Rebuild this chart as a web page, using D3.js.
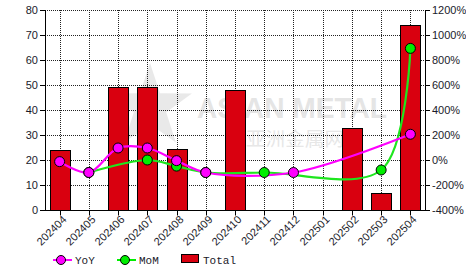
<!DOCTYPE html>
<html>
<head>
<meta charset="utf-8">
<script src="https://cdn.jsdelivr.net/npm/d3@7"></script>
<style>
    body { margin: 0; background: #fff; }
    svg { display: block; }
    .tick-label { font-family: "Liberation Sans", Arial, sans-serif; font-size: 11px; fill: #1a1a2a; }
    .legend-label { font-family: "Liberation Mono", "DejaVu Sans Mono", monospace; font-size: 11px; fill: #1a1a2a; }
</style>
</head>
<body>
<div id="chart"></div>
<script>
// Chart data.
var months = ['202404', '202405', '202406', '202407', '202408', '202409', '202410',
    '202411', '202412', '202501', '202502', '202503', '202504'];
var total = [24, 0, 49, 49, 24.5, 0, 48, 0, 0, 0, 33, 7, 74];
var yoy = [-13, -100, 96, 96, -5, -100, null, null, -100, null, null, null, 206];
var mom = [null, -100, null, 0, -49, -100, null, -100, null, null, null, -80, 893];
var leftTicks = [0, 10, 20, 30, 40, 50, 60, 70, 80];
var rightTicks = [-400, -200, 0, 200, 400, 600, 800, 1000, 1200];

var width = 466, height = 272;
var margin = { top: 10, right: 41, bottom: 62, left: 45 };
var plotW = width - margin.left - margin.right;
var plotH = height - margin.top - margin.bottom;

var svg = d3.select('#chart').append('svg')
    .attr('width', width)
    .attr('height', height);

svg.append('rect').attr('width', width).attr('height', height).attr('fill', '#fff');

// Scales.
var x = d3.scaleBand()
    .domain(months)
    .range([margin.left, margin.left + plotW])
    .paddingInner(0.32)
    .paddingOuter(0.16);
var yLeft = d3.scaleLinear().domain([0, 80]).range([margin.top + plotH, margin.top]);
var yRight = d3.scaleLinear().domain([-400, 1200]).range([margin.top + plotH, margin.top]);
var cx = function(m) { return x(m) + x.bandwidth() / 2; };

// Watermark.
var wm = svg.append('g').attr('opacity', 0.55);
var starPts = d3.range(10).map(function(i) {
    var r = i % 2 ? 17 : 44;
    var a = -Math.PI / 2 + i * Math.PI / 5;
    return [150 + r * Math.cos(a), 107 + r * Math.sin(a)];
});
wm.append('polygon').attr('points', starPts.join(' ')).attr('fill', '#d8d8d8');
wm.append('text').attr('x', 197).attr('y', 118)
    .style('font-family', '"Liberation Sans", Arial, sans-serif')
    .style('font-size', '30px').style('font-weight', 'bold')
    .attr('textLength', 190).attr('lengthAdjust', 'spacingAndGlyphs')
    .attr('fill', '#d0d0d0').text('ASIAN METAL');
wm.append('text').attr('x', 246).attr('y', 146)
    .style('font-family', '"Noto Sans CJK SC", sans-serif')
    .style('font-size', '19px')
    .attr('textLength', 98).attr('lengthAdjust', 'spacingAndGlyphs')
    .attr('fill', '#d4d4d4').text('亚洲金属网');

// Grid.
var grid = svg.append('g')
    .attr('stroke', '#222')
    .attr('stroke-width', 1)
    .attr('stroke-dasharray', '1,1');
grid.selectAll('.hgrid')
    .data(leftTicks.slice(1))
    .enter().append('line')
    .attr('x1', margin.left).attr('x2', margin.left + plotW)
    .attr('y1', function(d) { return Math.round(yLeft(d)) + 0.5; })
    .attr('y2', function(d) { return Math.round(yLeft(d)) + 0.5; });
grid.selectAll('.vgrid')
    .data(months)
    .enter().append('line')
    .attr('x1', function(d) { return Math.round(cx(d)) + 0.5; })
    .attr('x2', function(d) { return Math.round(cx(d)) + 0.5; })
    .attr('y1', margin.top).attr('y2', margin.top + plotH);

// Bars.
svg.append('g').selectAll('rect')
    .data(months.map(function(m, i) { return { m: m, v: total[i] }; }).filter(function(d) { return d.v > 0; }))
    .enter().append('rect')
    .attr('x', function(d) { return Math.round(x(d.m)) + 0.5; })
    .attr('y', function(d) { return Math.round(yLeft(d.v)) + 0.5; })
    .attr('width', Math.round(x.bandwidth()))
    .attr('height', function(d) { return Math.round(yLeft(0)) - Math.round(yLeft(d.v)); })
    .attr('fill', '#d9000f')
    .attr('stroke', '#000')
    .attr('stroke-width', 1);

// Lines (splines through the available points).
var series = [
    { name: 'MoM', values: mom, color: '#1ee61e', marker: '#00ee00' },
    { name: 'YoY', values: yoy, color: '#ff00ff', marker: '#ff00ff' }
];
var line = d3.line()
    .x(function(d) { return cx(d.m); })
    .y(function(d) { return yRight(d.v); })
    .curve(d3.curveCatmullRom.alpha(0.5));

series.forEach(function(s) {
    s.points = months.map(function(m, i) { return { m: m, v: s.values[i] }; })
        .filter(function(d) { return d.v !== null; });
    svg.append('path')
        .datum(s.points)
        .attr('d', line)
        .attr('fill', 'none')
        .attr('stroke', s.color)
        .attr('stroke-width', 2.2);
});
series.forEach(function(s) {
    svg.append('g').selectAll('circle')
        .data(s.points)
        .enter().append('circle')
        .attr('cx', function(d) { return cx(d.m); })
        .attr('cy', function(d) { return yRight(d.v); })
        .attr('r', 5)
        .attr('fill', s.marker)
        .attr('stroke', '#000')
        .attr('stroke-width', 1);
});

// Axes.
var axes = svg.append('g').attr('stroke', '#000').attr('stroke-width', 1);
var y0 = Math.round(yLeft(0)) + 0.5;
axes.append('line').attr('x1', margin.left + 0.5).attr('x2', margin.left + 0.5)
    .attr('y1', margin.top).attr('y2', y0);
axes.append('line').attr('x1', margin.left + plotW + 0.5).attr('x2', margin.left + plotW + 0.5)
    .attr('y1', margin.top).attr('y2', y0);
axes.append('line').attr('x1', margin.left).attr('x2', margin.left + plotW + 1)
    .attr('y1', y0).attr('y2', y0);

leftTicks.forEach(function(t) {
    var yy = Math.round(yLeft(t)) + 0.5;
    axes.append('line').attr('x1', margin.left - 5).attr('x2', margin.left).attr('y1', yy).attr('y2', yy);
    svg.append('text').attr('class', 'tick-label')
        .attr('x', margin.left - 7).attr('y', yy).attr('dy', '0.35em')
        .attr('text-anchor', 'end').text(t);
});
rightTicks.forEach(function(t) {
    var yy = Math.round(yRight(t)) + 0.5;
    axes.append('line').attr('x1', margin.left + plotW).attr('x2', margin.left + plotW + 5).attr('y1', yy).attr('y2', yy);
    svg.append('text').attr('class', 'tick-label')
        .attr('x', margin.left + plotW + 7).attr('y', yy).attr('dy', '0.35em')
        .text(t + '%');
});
months.forEach(function(m) {
    var xx = Math.round(cx(m)) + 0.5;
    axes.append('line').attr('x1', xx).attr('x2', xx).attr('y1', y0).attr('y2', y0 + 5);
    svg.append('text').attr('class', 'tick-label')
        .attr('transform', 'translate(' + (xx + 4) + ',' + (y0 + 7) + ') rotate(-45)')
        .attr('text-anchor', 'end').attr('dy', '0.35em')
        .text(m);
});

// Legend.
var legend = svg.append('g').attr('transform', 'translate(0,260)');
[
    { name: 'YoY', color: '#ff00ff', x: 53 },
    { name: 'MoM', color: '#00ee00', x: 117 }
].forEach(function(l) {
    legend.append('line').attr('x1', l.x).attr('x2', l.x + 19).attr('y1', 0).attr('y2', 0)
        .attr('stroke', l.color).attr('stroke-width', 2);
    legend.append('circle').attr('cx', l.x + 8).attr('cy', 0).attr('r', 4.5)
        .attr('fill', l.color).attr('stroke', '#000');
    legend.append('text').attr('class', 'legend-label').attr('x', l.x + 22).attr('y', 0)
        .attr('dy', '0.35em').text(l.name);
});
legend.append('rect').attr('x', 181.5).attr('y', -5.5).attr('width', 17).attr('height', 8)
    .attr('fill', '#d9000f').attr('stroke', '#000');
legend.append('text').attr('class', 'legend-label').attr('x', 203).attr('y', 0)
    .attr('dy', '0.35em').text('Total');
</script>
</body>
</html>
